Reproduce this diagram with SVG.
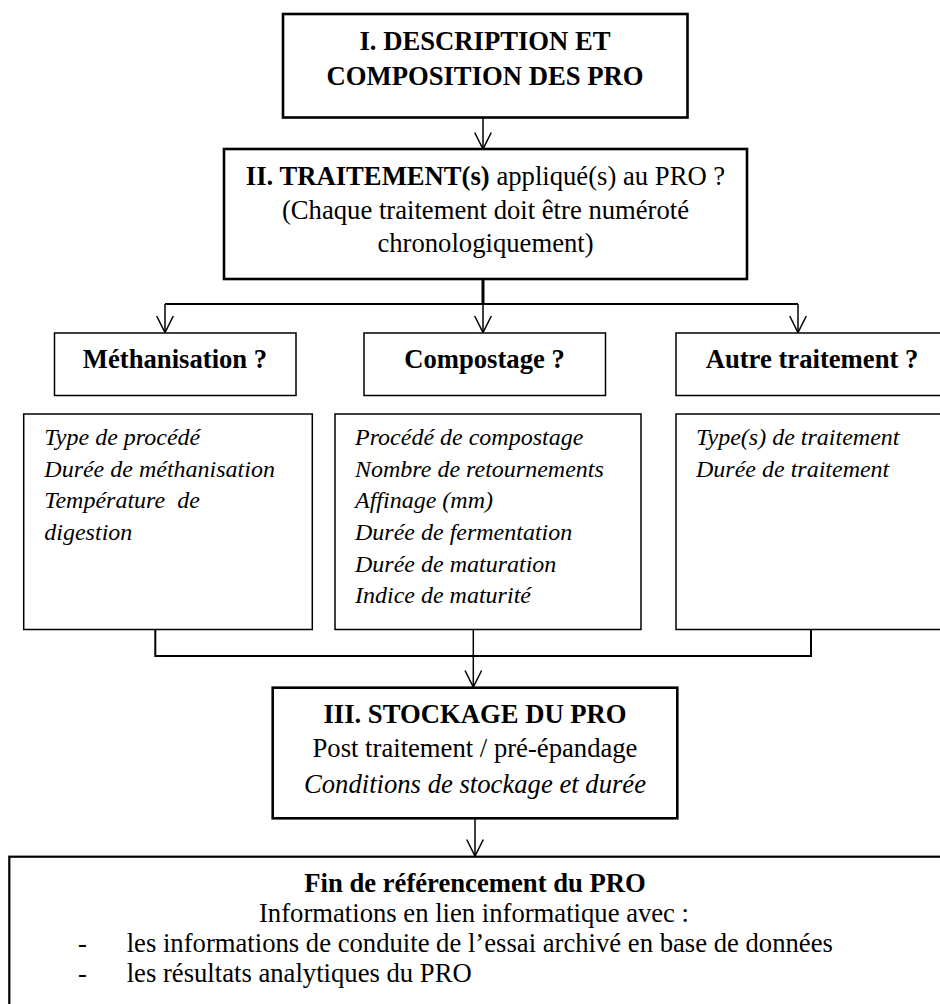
<svg xmlns="http://www.w3.org/2000/svg" width="940" height="1004" viewBox="0 0 940 1004">
<style>
text{font-family:"Liberation Serif","Times New Roman",serif;fill:#000}
.t{font-size:26.67px}
.b{font-weight:bold}
.c{text-anchor:middle}
.d{font-size:24px;font-style:italic}
.n{fill:#fff;stroke:#000}
.thick{stroke-width:2.6}
.thin{stroke-width:1.5}
.ln{fill:none;stroke:#000}
</style>
<defs>
<marker id="arr" viewBox="-18 -10 20 20" refX="0" refY="0" markerWidth="20" markerHeight="20" markerUnits="userSpaceOnUse" orient="auto">
<path d="M-16.5,-8.3 L0,0 L-16.5,8.3" fill="none" stroke="#000" stroke-width="1.5"/>
</marker>
</defs>
<rect width="940" height="1004" fill="#fff"/>
<g id="connectors">
<path class="ln" stroke-width="1.5" d="M483,117 V149" marker-end="url(#arr)"/>
<path class="ln" stroke-width="3" d="M483,279 V305"/>
<path class="ln" stroke-width="2" d="M165,304 H798"/>
<path class="ln" stroke-width="1.5" d="M165,304 V332.5" marker-end="url(#arr)"/>
<path class="ln" stroke-width="1.5" d="M483,304 V332.5" marker-end="url(#arr)"/>
<path class="ln" stroke-width="1.5" d="M798,304 V332.5" marker-end="url(#arr)"/>
<path class="ln" stroke-width="2" d="M155.3,630 V656 H811 V630"/>
<path class="ln" stroke-width="1.5" d="M473.3,630 V656"/>
<path class="ln" stroke-width="1.5" d="M473.3,656 V687" marker-end="url(#arr)"/>
<path class="ln" stroke-width="1.5" d="M475,818.5 V856" marker-end="url(#arr)"/>
</g>
<g id="n1">
<rect class="n thick" x="283" y="14" width="404.5" height="103.5"/>
<text class="t b c" x="485" y="50">I. DESCRIPTION ET</text>
<text class="t b c" x="485" y="85">COMPOSITION DES PRO</text>
</g>
<g id="n2">
<rect class="n thick" x="224" y="149" width="523" height="130"/>
<text class="t c" x="485.5" y="185"><tspan class="b">II. TRAITEMENT(s)</tspan> appliqué(s) au PRO ?</text>
<text class="t c" x="485.5" y="218.5">(Chaque traitement doit être numéroté</text>
<text class="t c" x="485.5" y="252">chronologiquement)</text>
</g>
<g id="n3">
<rect class="n thin" x="54.5" y="333" width="241.5" height="62.5"/>
<text class="t b c" x="175" y="368">Méthanisation ?</text>
</g>
<g id="n4">
<rect class="n thin" x="364" y="333" width="241.5" height="62.5"/>
<text class="t b c" x="484.5" y="368">Compostage ?</text>
</g>
<g id="n5">
<rect class="n thin" x="676" y="333" width="300" height="62.5"/>
<text class="t b c" x="812" y="368">Autre traitement ?</text>
</g>
<g id="n6">
<rect class="n thin" x="23.7" y="414" width="288.6" height="215.5"/>
<text class="d" x="44.3" y="445">Type de procédé</text>
<text class="d" x="44.3" y="476.7">Durée de méthanisation</text>
<text class="d" x="44.3" y="508.3" xml:space="preserve">Température  de</text>
<text class="d" x="44.3" y="540">digestion</text>
</g>
<g id="n7">
<rect class="n thin" x="335" y="414" width="306" height="215.5"/>
<text class="d" x="355" y="445">Procédé de compostage</text>
<text class="d" x="355" y="476.7">Nombre de retournements</text>
<text class="d" x="355" y="508.3">Affinage (mm)</text>
<text class="d" x="355" y="540">Durée de fermentation</text>
<text class="d" x="355" y="571.7">Durée de maturation</text>
<text class="d" x="355" y="602.5">Indice de maturité</text>
</g>
<g id="n8">
<rect class="n thin" x="676" y="414" width="300" height="215.5"/>
<text class="d" x="696" y="445">Type(s) de traitement</text>
<text class="d" x="696" y="476.7">Durée de traitement</text>
</g>
<g id="n9">
<rect class="n thick" x="272.7" y="687.7" width="404.6" height="130.6"/>
<text class="t b c" x="475" y="723.3">III. STOCKAGE DU PRO</text>
<text class="t c" x="475" y="757.3">Post traitement / pré-épandage</text>
<text class="t c" x="475" y="793" font-style="italic">Conditions de stockage et durée</text>
</g>
<g id="n10">
<rect class="n" stroke-width="2.2" x="9.3" y="856.7" width="1000" height="220"/>
<text class="t b c" x="475" y="891.7">Fin de référencement du PRO</text>
<text class="t c" x="474" y="921.7">Informations en lien informatique avec :</text>
<text class="t" x="78" y="951.7">-</text>
<text class="t" x="126.7" y="951.7">les informations de conduite de l’essai archivé en base de données</text>
<text class="t" x="78" y="981.7">-</text>
<text class="t" x="126.7" y="981.7">les résultats analytiques du PRO</text>
</g>
</svg>
